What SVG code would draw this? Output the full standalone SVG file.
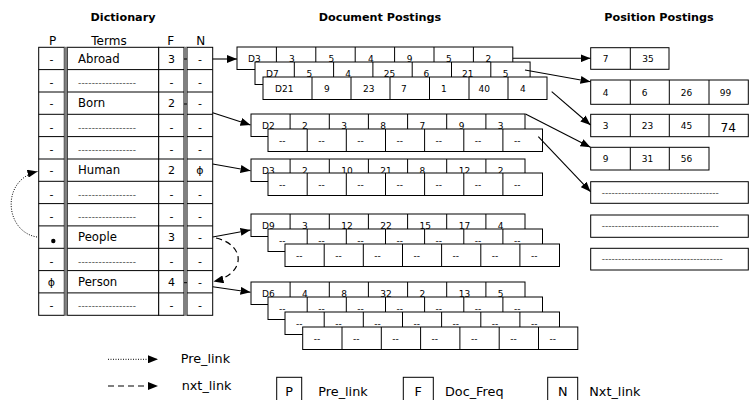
<svg xmlns="http://www.w3.org/2000/svg" width="754" height="400" viewBox="0 0 754 400">
<defs>
<style>
text{font-family:"DejaVu Sans",sans-serif;fill:#000}
.h{font-weight:bold;font-size:11.2px;text-anchor:middle}
.ch{font-size:12px;text-anchor:middle}
.t{font-size:11.7px}
.c{font-size:11px;text-anchor:middle}
.dd{font-size:9px;fill:#444}
.p{font-size:9px}
.box{fill:#fff;stroke:#000;stroke-width:1}
.ln{stroke:#000;stroke-width:1;fill:none}
.sep{fill:#808080}
.con{stroke:#000;stroke-width:1.1;fill:none}
.dot{stroke:#000;stroke-width:1;fill:none;stroke-dasharray:1 1.5}
.dash{stroke:#000;stroke-width:1.2;fill:none;stroke-dasharray:6 4}
.lg{font-size:12.8px}
.lgc{font-size:12.8px;text-anchor:middle}
</style>
<marker id="ah" markerWidth="10" markerHeight="8" refX="10" refY="4" orient="auto" markerUnits="userSpaceOnUse">
<path d="M0,0 L10,4 L0,8 z" fill="#000"/>
</marker>
</defs>
<rect width="754" height="400" fill="#fff"/>

<g id="headers">
<text class="h" x="123" y="21">Dictionary</text>
<text class="h" x="380" y="21">Document Postings</text>
<text class="h" x="659" y="21">Position Postings</text>
<text class="ch" x="52.7" y="44.5">P</text>
<text class="ch" x="109" y="44.5">Terms</text>
<text class="ch" x="170.7" y="44.5">F</text>
<text class="ch" x="200.7" y="45">N</text>
</g>

<g id="dictionary">
<rect class="box" x="38.7" y="47.3" width="25.6" height="268"/>
<rect class="box" x="67.3" y="47.3" width="91.4" height="268"/>
<rect class="box" x="158.7" y="47.3" width="25.3" height="268"/>
<rect class="box" x="187" y="47.3" width="25.7" height="268"/>
<path class="ln" d="M38.7 69.6H212.7M38.7 92H212.7M38.7 114.3H212.7M38.7 136.6H212.7M38.7 159H212.7M38.7 181.3H212.7M38.7 203.6H212.7M38.7 225.9H212.7M38.7 248.3H212.7M38.7 270.6H212.7M38.7 292.9H212.7"/>
<rect class="sep" x="64.3" y="46.8" width="3" height="269"/>
<rect class="sep" x="184" y="46.8" width="3" height="269"/>
<path class="ln" d="M184 59H187M184 104H187M184 282.7H187"/>
<g id="row-abroad"><text class="c" x="51.5" y="62.7">-</text><text class="t" x="78" y="62.7">Abroad</text><text class="c" x="171.5" y="62.7">3</text><text class="c" x="200" y="62.7">-</text></g>
<g id="row-1"><text class="c" x="51.5" y="85.8">-</text><text class="dd" x="78" y="85.8" textLength="58" lengthAdjust="spacing">-----------------</text><text class="c" x="171.5" y="85.8">-</text><text class="c" x="200" y="85.8">-</text></g>
<g id="row-born"><text class="c" x="51.5" y="107.4">-</text><text class="t" x="78" y="107.4">Born</text><text class="c" x="171.5" y="107.4">2</text><text class="c" x="200" y="107.4">-</text></g>
<g id="row-3"><text class="c" x="51.5" y="130.5">-</text><text class="dd" x="78" y="130.5" textLength="58" lengthAdjust="spacing">-----------------</text><text class="c" x="171.5" y="130.5">-</text><text class="c" x="200" y="130.5">-</text></g>
<g id="row-4"><text class="c" x="51.5" y="152.8">-</text><text class="dd" x="78" y="152.8" textLength="58" lengthAdjust="spacing">-----------------</text><text class="c" x="171.5" y="152.8">-</text><text class="c" x="200" y="152.8">-</text></g>
<g id="row-human"><text class="c" x="51.5" y="174.3">-</text><text class="t" x="78" y="174.3">Human</text><text class="c" x="171.5" y="174.3">2</text><text class="c" x="200" y="174.3">ϕ</text></g>
<g id="row-6"><text class="c" x="51.5" y="197.5">-</text><text class="dd" x="78" y="197.5" textLength="58" lengthAdjust="spacing">-----------------</text><text class="c" x="171.5" y="197.5">-</text><text class="c" x="200" y="197.5">-</text></g>
<g id="row-7"><text class="c" x="51.5" y="219.8">-</text><text class="dd" x="78" y="219.8" textLength="58" lengthAdjust="spacing">-----------------</text><text class="c" x="171.5" y="219.8">-</text><text class="c" x="200" y="219.8">-</text></g>
<g id="row-people"><circle cx="53.3" cy="241" r="2.2" fill="#000"/><text class="t" x="78" y="241.3">People</text><text class="c" x="171.5" y="241.3">3</text><text class="c" x="200" y="241.3">-</text></g>
<g id="row-9"><text class="c" x="51.5" y="264.5">-</text><text class="dd" x="78" y="264.5" textLength="58" lengthAdjust="spacing">-----------------</text><text class="c" x="171.5" y="264.5">-</text><text class="c" x="200" y="264.5">-</text></g>
<g id="row-person"><text class="c" x="51.5" y="286">ϕ</text><text class="t" x="78" y="286">Person</text><text class="c" x="171.5" y="286">4</text><text class="c" x="200" y="286">-</text></g>
<g id="row-11"><text class="c" x="51.5" y="309.1">-</text><text class="dd" x="78" y="309.1" textLength="58" lengthAdjust="spacing">-----------------</text><text class="c" x="171.5" y="309.1">-</text><text class="c" x="200" y="309.1">-</text></g>
</g>

<g id="postings-abroad">
<g><rect class="box" x="237" y="47" width="275.8" height="22.5"/><path class="ln" d="M276.4 47v22.5M315.8 47v22.5M355.2 47v22.5M394.6 47v22.5M434 47v22.5M473.4 47v22.5"/>
<text class="p" x="248" y="62">D3</text><text class="p" x="289" y="62">3</text><text class="p" x="328.5" y="62">5</text><text class="p" x="368" y="62">4</text><text class="p" x="406.8" y="62">9</text><text class="p" x="446" y="62">5</text><text class="p" x="485.4" y="62">2</text></g>
<g><rect class="box" x="255" y="62" width="275.1" height="22.5"/><path class="ln" d="M294.3 62v22.5M333.6 62v22.5M372.9 62v22.5M412.2 62v22.5M451.5 62v22.5M490.8 62v22.5"/>
<text class="p" x="266" y="77">D7</text><text class="p" x="306.5" y="77">5</text><text class="p" x="345.3" y="77">4</text><text class="p" x="383.8" y="77">25</text><text class="p" x="423.5" y="77">6</text><text class="p" x="462" y="77">21</text><text class="p" x="502.8" y="77">5</text></g>
<g><rect class="box" x="263" y="77" width="284" height="22.5"/><path class="ln" d="M312 77v22.5M351 77v22.5M390 77v22.5M429.5 77v22.5M469 77v22.5M508 77v22.5"/>
<text class="p" x="275" y="92">D21</text><text class="p" x="324" y="92">9</text><text class="p" x="363" y="92">23</text><text class="p" x="401" y="92">7</text><text class="p" x="441" y="92">1</text><text class="p" x="478.5" y="92">40</text><text class="p" x="520" y="92">4</text></g>
</g>

<g id="postings-born">
<g><rect class="box" x="251" y="114" width="274" height="22.5"/><path class="ln" d="M290.1 114v22.5M329.3 114v22.5M368.4 114v22.5M407.6 114v22.5M446.7 114v22.5M485.9 114v22.5"/>
<text class="p" x="262" y="129">D2</text><text class="p" x="302" y="129">2</text><text class="p" x="341.2" y="129">3</text><text class="p" x="380.3" y="129">8</text><text class="p" x="419.5" y="129">7</text><text class="p" x="458.7" y="129">9</text><text class="p" x="497.8" y="129">3</text></g>
<g><rect class="box" x="268" y="129" width="274.5" height="22.5"/><path class="ln" d="M307.2 129v22.5M346.3 129v22.5M385.5 129v22.5M424.6 129v22.5M463.8 129v22.5M502.9 129v22.5"/>
<text class="p" x="279" y="143.5">--</text><text class="p" x="318.2" y="143.5">--</text><text class="p" x="357.3" y="143.5">--</text><text class="p" x="396.5" y="143.5">--</text><text class="p" x="435.6" y="143.5">--</text><text class="p" x="474.8" y="143.5">--</text><text class="p" x="513.9" y="143.5">--</text></g>
</g>

<g id="postings-human">
<g><rect class="box" x="251" y="159" width="274" height="22.5"/><path class="ln" d="M290.1 159v22.5M329.3 159v22.5M368.4 159v22.5M407.6 159v22.5M446.7 159v22.5M485.9 159v22.5"/>
<text class="p" x="262" y="174">D3</text><text class="p" x="302" y="174">2</text><text class="p" x="341.2" y="174">10</text><text class="p" x="380.3" y="174">21</text><text class="p" x="419.5" y="174">8</text><text class="p" x="458.7" y="174">12</text><text class="p" x="497.8" y="174">2</text></g>
<g><rect class="box" x="268" y="173" width="274.5" height="22.5"/><path class="ln" d="M307.2 173v22.5M346.3 173v22.5M385.5 173v22.5M424.6 173v22.5M463.8 173v22.5M502.9 173v22.5"/>
<text class="p" x="279" y="187.5">--</text><text class="p" x="318.2" y="187.5">--</text><text class="p" x="357.3" y="187.5">--</text><text class="p" x="396.5" y="187.5">--</text><text class="p" x="435.6" y="187.5">--</text><text class="p" x="474.8" y="187.5">--</text><text class="p" x="513.9" y="187.5">--</text></g>
</g>

<g id="postings-people">
<g><rect class="box" x="251" y="214" width="274" height="22.5"/><path class="ln" d="M290.1 214v22.5M329.3 214v22.5M368.4 214v22.5M407.6 214v22.5M446.7 214v22.5M485.9 214v22.5"/>
<text class="p" x="262" y="229">D9</text><text class="p" x="302" y="229">3</text><text class="p" x="341.2" y="229">12</text><text class="p" x="380.3" y="229">22</text><text class="p" x="419.5" y="229">15</text><text class="p" x="458.7" y="229">17</text><text class="p" x="497.8" y="229">4</text></g>
<g><rect class="box" x="268" y="229" width="274.5" height="22.5"/><path class="ln" d="M307.2 229v22.5M346.3 229v22.5M385.5 229v22.5M424.6 229v22.5M463.8 229v22.5M502.9 229v22.5"/>
<text class="p" x="279" y="243.5">--</text><text class="p" x="318.2" y="243.5">--</text><text class="p" x="357.3" y="243.5">--</text><text class="p" x="396.5" y="243.5">--</text><text class="p" x="435.6" y="243.5">--</text><text class="p" x="474.8" y="243.5">--</text><text class="p" x="513.9" y="243.5">--</text></g>
<g><rect class="box" x="285" y="244" width="274.5" height="22.5"/><path class="ln" d="M324.2 244v22.5M363.3 244v22.5M402.5 244v22.5M441.6 244v22.5M480.8 244v22.5M519.9 244v22.5"/>
<text class="p" x="296" y="258.5">--</text><text class="p" x="335.2" y="258.5">--</text><text class="p" x="374.3" y="258.5">--</text><text class="p" x="413.5" y="258.5">--</text><text class="p" x="452.6" y="258.5">--</text><text class="p" x="491.8" y="258.5">--</text><text class="p" x="530.9" y="258.5">--</text></g>
</g>

<g id="postings-person">
<g><rect class="box" x="251" y="282" width="274" height="22.5"/><path class="ln" d="M290.1 282v22.5M329.3 282v22.5M368.4 282v22.5M407.6 282v22.5M446.7 282v22.5M485.9 282v22.5"/>
<text class="p" x="262" y="297">D6</text><text class="p" x="302" y="297">4</text><text class="p" x="341.2" y="297">8</text><text class="p" x="380.3" y="297">32</text><text class="p" x="419.5" y="297">2</text><text class="p" x="458.7" y="297">13</text><text class="p" x="497.8" y="297">5</text></g>
<g><rect class="box" x="268" y="297" width="274.5" height="22.5"/><path class="ln" d="M307.2 297v22.5M346.3 297v22.5M385.5 297v22.5M424.6 297v22.5M463.8 297v22.5M502.9 297v22.5"/>
<text class="p" x="279" y="311.5">--</text><text class="p" x="318.2" y="311.5">--</text><text class="p" x="357.3" y="311.5">--</text><text class="p" x="396.5" y="311.5">--</text><text class="p" x="435.6" y="311.5">--</text><text class="p" x="474.8" y="311.5">--</text><text class="p" x="513.9" y="311.5">--</text></g>
<g><rect class="box" x="285" y="312" width="274.5" height="22.5"/><path class="ln" d="M324.2 312v22.5M363.3 312v22.5M402.5 312v22.5M441.6 312v22.5M480.8 312v22.5M519.9 312v22.5"/>
<text class="p" x="296" y="326.5">--</text><text class="p" x="335.2" y="326.5">--</text><text class="p" x="374.3" y="326.5">--</text><text class="p" x="413.5" y="326.5">--</text><text class="p" x="452.6" y="326.5">--</text><text class="p" x="491.8" y="326.5">--</text><text class="p" x="530.9" y="326.5">--</text></g>
<g><rect class="box" x="302.7" y="327" width="275.1" height="22.5"/><path class="ln" d="M342 327v22.5M381.3 327v22.5M420.6 327v22.5M459.9 327v22.5M499.2 327v22.5M538.5 327v22.5"/>
<text class="p" x="313.7" y="341.5">--</text><text class="p" x="353" y="341.5">--</text><text class="p" x="392.3" y="341.5">--</text><text class="p" x="431.6" y="341.5">--</text><text class="p" x="470.9" y="341.5">--</text><text class="p" x="510.2" y="341.5">--</text><text class="p" x="549.5" y="341.5">--</text></g>
</g>

<g id="position-postings">
<g id="pos-1"><rect class="box" x="590.7" y="47.7" width="78.3" height="21.6"/><path class="ln" d="M630.3 47.7v21.6"/><text class="p" x="602.7" y="62.3">7</text><text class="p" x="642.2" y="62.3">35</text></g>
<g id="pos-2"><rect class="box" x="590.7" y="80" width="157.6" height="24.3"/><path class="ln" d="M630.3 80v24.3M669.3 80v24.3M709 80v24.3"/><text class="p" x="602.7" y="95.8">4</text><text class="p" x="641.7" y="95.8">6</text><text class="p" x="680.7" y="95.8">26</text><text class="p" x="719.8" y="95.8">99</text></g>
<g id="pos-3"><rect class="box" x="590.7" y="114.3" width="157.6" height="22.4"/><path class="ln" d="M630.3 114.3v22.4M669.3 114.3v22.4M709 114.3v22.4"/><text class="p" x="602.7" y="129.2">3</text><text class="p" x="641.7" y="129.2">23</text><text class="p" x="680.7" y="129.2">45</text><text x="720.5" y="131.7" style="font-size:12.2px">74</text></g>
<g id="pos-4"><rect class="box" x="590.7" y="147.3" width="118.3" height="22.7"/><path class="ln" d="M630.3 147.3v22.7M669.3 147.3v22.7"/><text class="p" x="602.7" y="162">9</text><text class="p" x="641.7" y="162">31</text><text class="p" x="680.7" y="162">56</text></g>
<g id="pos-5"><rect class="box" x="590.7" y="181.7" width="157.6" height="21.6"/><text class="dd" x="601.7" y="195.5" textLength="117" lengthAdjust="spacing">------------------------------------</text></g>
<g id="pos-6"><rect class="box" x="590.7" y="215" width="157.6" height="22.3"/><text class="dd" x="601.7" y="228.8" textLength="117" lengthAdjust="spacing">------------------------------------</text></g>
<g id="pos-7"><rect class="box" x="590.7" y="248.3" width="157.6" height="21.7"/><text class="dd" x="601.7" y="262" textLength="121" lengthAdjust="spacing">-------------------------------------</text></g>
</g>

<g id="connectors">
<path class="con" marker-end="url(#ah)" d="M212.7 59H237"/>
<path class="con" marker-end="url(#ah)" d="M212.7 112.7L250.5 125"/>
<path class="con" marker-end="url(#ah)" d="M212.7 164L250.5 170.7"/>
<path class="con" marker-end="url(#ah)" d="M212.7 237L250.5 230"/>
<path class="con" marker-end="url(#ah)" d="M212.7 286.7L250.5 292.3"/>
<path class="dot" marker-end="url(#ah)" d="M37 237C5 232 0 180 37.5 171.5"/>
<path class="dash" marker-end="url(#ah)" d="M216 238C246 245 246 274 213.5 281.5"/>
<path class="con" marker-end="url(#ah)" d="M512.8 58.3H590.5"/>
<path class="con" marker-end="url(#ah)" d="M525 70L590.5 81.7"/>
<path class="con" marker-end="url(#ah)" d="M551.7 91.7L590.5 125"/>
<path class="con" marker-end="url(#ah)" d="M525.5 114L590.5 147.3"/>
<path class="con" marker-end="url(#ah)" d="M538.3 136.7L590.5 191.7"/>
</g>

<g id="legend">
<path class="dot" marker-end="url(#ah)" d="M108 359.3H158"/>
<text class="lg" x="180.7" y="362.8">Pre_link</text>
<path class="dash" marker-end="url(#ah)" d="M108 386H158"/>
<text class="lg" x="181.7" y="389.5">nxt_link</text>
<rect class="box" x="276.7" y="377.3" width="25" height="30"/>
<text class="lgc" x="289.2" y="396.3">P</text>
<text class="lg" x="318.3" y="396.3">Pre_link</text>
<rect class="box" x="403.3" y="377.3" width="30" height="30"/>
<text class="lgc" x="418.3" y="396.3">F</text>
<text class="lg" x="445" y="396.3">Doc_Freq</text>
<rect class="box" x="547.7" y="377.3" width="30" height="30"/>
<text class="lgc" x="562.7" y="396.3">N</text>
<text class="lg" x="589.3" y="396.3">Nxt_link</text>
</g>
</svg>
